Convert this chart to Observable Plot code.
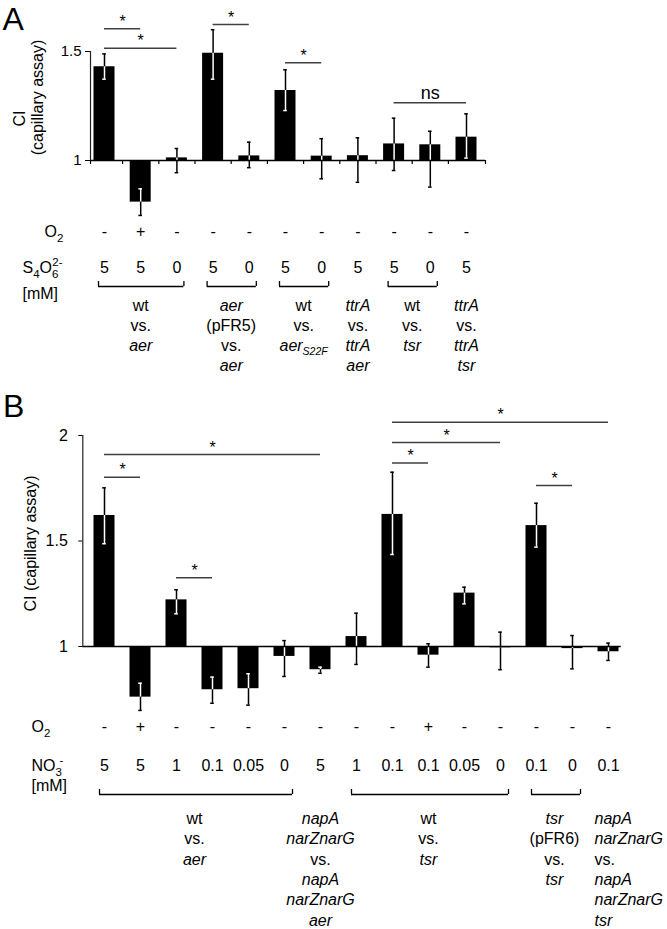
<!DOCTYPE html>
<html>
<head>
<meta charset="utf-8">
<script src="https://cdn.jsdelivr.net/npm/d3@7"></script>
<script src="https://cdn.jsdelivr.net/npm/@observablehq/plot@0.6"></script>
<style>
  html, body { margin: 0; padding: 0; background: #fff; }
  #fig { position: relative; width: 667px; height: 929px; overflow: hidden; background: #fff; }
  #panelA, #panelB { position: absolute; left: 0; }
  #panelA { top: 0; }
  #panelB { top: 385px; }
</style>
</head>
<body>
<div id="fig"><div id="panelA"></div><div id="panelB"></div></div>
<script>
// ---------------- Panel A data ----------------
const o2A   = ["-","+","-","-","-","-","-","-","-","-","-"];
const s4o6A = ["5","5","0","5","0","5","0","5","5","0","5"];
const ciA   = [1.430, 0.809, 1.012, 1.492, 1.021, 1.321, 1.020, 1.022, 1.076, 1.072, 1.107];
const ciLoA = [1.373, 0.748, 0.944, 1.373, 0.967, 1.229, 0.916, 0.900, 0.954, 0.878, 1.011];
const ciHiA = [1.489, 0.870, 1.055, 1.600, 1.084, 1.416, 1.100, 1.104, 1.194, 1.134, 1.214];
const yTicksA = [1, 1.5];
const groupsA = [
  {from: 0, to: 2, lines: ["wt", "vs.", "aer"]},
  {from: 3, to: 4, lines: ["aer", "(pFR5)", "vs.", "aer"]},
  {from: 5, to: 6, lines: ["wt", "vs.", "aerS22F"]},
  {from: 7, to: 7, lines: ["ttrA", "vs.", "ttrA", "aer"]},
  {from: 8, to: 9, lines: ["wt", "vs.", "tsr"]},
  {from: 10, to: 10, lines: ["ttrA", "vs.", "ttrA", "tsr"]}
];
const sigA = [
  {from: 0, to: 1, y: 1.604, label: "*"},
  {from: 0, to: 2, y: 1.515, label: "*"},
  {from: 3, to: 4, y: 1.624, label: "*"},
  {from: 5, to: 6, y: 1.448, label: "*"},
  {from: 8, to: 10, y: 1.265, label: "ns"}
];
const rowLabelsA = ["O2", "S4O62-", "[mM]"];
const yLabelA = ["CI", "(capillary assay)"];

// ---------------- Panel B data ----------------
const o2B   = ["-","+","-","-","-","-","-","-","-","+","-","-","-","-","-"];
const no3B  = ["5","5","1","0.1","0.05","0","5","1","0.1","0.1","0.05","0","0.1","0","0.1"];
const ciB   = [1.621, 0.760, 1.221, 0.795, 0.800, 0.953, 0.890, 1.047, 1.626, 0.959, 1.253, 0.994, 1.573, 0.990, 0.975];
const ciLoB = [1.487, 0.697, 1.155, 0.731, 0.722, 0.858, 0.873, 0.915, 1.436, 0.902, 1.202, 0.890, 1.471, 0.894, 0.934];
const ciHiB = [1.752, 0.826, 1.269, 0.855, 0.871, 1.028, 0.902, 1.158, 1.826, 1.013, 1.281, 1.068, 1.679, 1.052, 1.016];
const yTicksB = [1, 1.5, 2];
const groupsB = [
  {from: 0, to: 5, lines: ["wt", "vs.", "aer"]},
  {from: 6, to: 6, lines: ["napA", "narZnarG", "vs.", "napA", "narZnarG", "aer"]},
  {from: 7, to: 11, lines: ["wt", "vs.", "tsr"]},
  {from: 12, to: 13, lines: ["tsr", "(pFR6)", "vs.", "tsr"]},
  {from: 14, to: 14, lines: ["napA", "narZnarG", "vs.", "napA", "narZnarG", "tsr"]}
];
const sigB = [
  {from: 0, to: 6, y: 1.910, label: "*"},
  {from: 0, to: 1, y: 1.802, label: "*"},
  {from: 2, to: 3, y: 1.326, label: "*"},
  {from: 8, to: 14, y: 2.063, label: "*"},
  {from: 8, to: 11, y: 1.967, label: "*"},
  {from: 8, to: 9, y: 1.870, label: "*"},
  {from: 12, to: 13, y: 1.763, label: "*"}
];
const rowLabelsB = ["O2", "NO3-", "[mM]"];
const yLabelB = ["CI (capillary assay)"];

// ---------------- layout (pixels) ----------------
const FONT = "'Liberation Sans', Arial, Helvetica, sans-serif";
const layoutA = {
  height: 385, x0: 104, ppx: 36.2, y1: 160, ppu: 218,
  barHalf: 10.5, capHalf: 1.8, axisL: 90, axisR: 485,
  tickSize: 5, tickPad: 4, tickFs: 15, catTicks: true, catTickLen: 4,
  rowY: [231, 267],
  labelPos: [[44, 231], [22, 267], [22, 293]],
  yLabelPos: [[19, 118], [37.5, 97]],
  letter: "A", letterPos: [2, 19.5], letterFs: 32,
  brY: 286, brTick: 5, brL: 6, brR: 7,
  genoTop: 296.5, genoLH: 1.25, lastLeft: 0
};
const layoutB = {
  height: 544, x0: 104, ppx: 36, y1: 261, ppu: 211,
  barHalf: 10.5, capHalf: 1.8, axisL: 82.3, axisR: 620.7,
  tickSize: 4, tickPad: 11, tickFs: 16, catTicks: false, catTickLen: 0,
  rowY: [341.7, 380.7],
  labelPos: [[31, 341.7], [31, 380.7], [31, 400]],
  yLabelPos: [[30, 158]],
  letter: "B", letterPos: [2.4, 21.4], letterFs: 32,
  brY: 409, brTick: 5, brL: 5, brR: 8,
  genoTop: 424.1, genoLH: 1.27, lastLeft: 14
};

// ---------------- rich text helpers ----------------
const SVGNS = "http://www.w3.org/2000/svg";
const RICH = {
  "O2": [["O"], ["2", "sub"]],
  "S4O62-": [["S"], ["4", "sub"], ["O"], ["6", "sub"], ["2-", "sup", -6.2]],
  "NO3-": [["NO"], ["3", "sub"], ["-", "sup", -2.5]]
};
const ITALIC = new Set(["aer", "ttrA", "tsr", "napA", "narZnarG", "aerS22F"]);
function buildRich(el, parts) {
  el.textContent = "";
  let off = 0;
  for (const [s, k, dx] of parts) {
    const ts = document.createElementNS(SVGNS, "tspan");
    const target = k === "sub" ? 5 : k === "sup" ? -7 : 0;
    ts.setAttribute("dy", target - off);
    off = target;
    if (k) ts.setAttribute("font-size", 11.5);
    if (dx) ts.setAttribute("dx", dx);
    ts.textContent = s;
    el.appendChild(ts);
  }
}
function enrich(svg) {
  svg.querySelectorAll("tspan").forEach(t => {
    const s = t.textContent;
    if (ITALIC.has(s)) t.setAttribute("font-style", "italic");
    if (s === "aerS22F") {
      t.textContent = "aer";
      const sub = document.createElementNS(SVGNS, "tspan");
      sub.setAttribute("font-size", 10.5);
      sub.setAttribute("dy", 4);
      sub.textContent = "S22F";
      t.appendChild(sub);
    }
  });
  svg.querySelectorAll("text").forEach(t => {
    if (t.children.length) return;
    const parts = RICH[t.textContent];
    if (parts) buildRich(t, parts);
  });
}

// ---------------- panel builder ----------------
function buildPanel(P, L) {
  const {ci, lo, hi, rows, groups, sig, yTicks, rowLabels, yLabel} = P;
  const n = ci.length, idx = d3.range(n);
  const xAt = px => (px - L.x0) / L.ppx;
  const yAt = px => 1 + (L.y1 - px) / L.ppu;
  const yMax = d3.max(yTicks);
  const hw = L.barHalf / L.ppx, capw = L.capHalf / L.ppx;
  const inBar = (i, v) => ci[i] >= 1 ? (v >= 1 && v <= ci[i]) : (v <= 1 && v >= ci[i]);
  const inner = idx.map(i => ci[i] >= 1 ? [Math.max(lo[i], 1), ci[i]] : [ci[i], Math.min(hi[i], 1)]);
  const caps = idx.flatMap(i => [{i, v: lo[i]}, {i, v: hi[i]}]);
  const whiteCaps = caps.filter(c => inBar(c.i, c.v));
  const bracketed = groups.filter(g => g.to > g.from);
  const bx1 = g => g.from - L.brL / L.ppx, bx2 = g => g.to + L.brR / L.ppx;
  const bracketEnds = bracketed.flatMap(g => [bx1(g), bx2(g)]);
  const catTicks = L.catTicks ? [xAt(L.axisL), ...d3.range(1, n).map(i => i - 0.5), xAt(L.axisR)] : [];
  const mainGroups = L.lastLeft ? groups.slice(0, -1) : groups;
  const lastGroups = L.lastLeft ? groups.slice(-1) : [];
  const labels = rowLabels.map((t, k) => ({t, x: L.labelPos[k][0], y: L.labelPos[k][1]}));
  const ylabs = yLabel.map((t, k) => ({t, x: L.yLabelPos[k][0], y: L.yLabelPos[k][1]}));

  const marks = [
    // error bars (black, full extent)
    Plot.ruleX(idx, {x: i => i, y1: i => lo[i], y2: i => hi[i], stroke: "#000", strokeWidth: 1.5}),
    Plot.ruleY(caps, {x1: c => c.i - capw, x2: c => c.i + capw, y: c => c.v, stroke: "#000", strokeWidth: 1.5}),
    // bars
    Plot.rect(idx, {x1: i => i - hw, x2: i => i + hw, y1: () => 1, y2: i => ci[i], fill: "#000"}),
    // error bars inside bars (white)
    Plot.ruleX(idx, {x: i => i, y1: i => inner[i][0], y2: i => inner[i][1], stroke: "#fff", strokeWidth: 1.5}),
    Plot.ruleY(whiteCaps, {x1: c => c.i - capw, x2: c => c.i + capw, y: c => c.v, stroke: "#fff", strokeWidth: 1.5}),
    // axes
    Plot.ruleY([1], {x1: () => xAt(L.axisL), x2: () => xAt(L.axisR), stroke: "#000", strokeWidth: 1.5}),
    Plot.ruleX([xAt(L.axisL)], {y1: () => 1, y2: () => yMax, stroke: "#222", strokeWidth: 1.2}),
    Plot.axisY(yTicks, {anchor: "left", tickSize: L.tickSize, tickPadding: L.tickPad, fontSize: L.tickFs, label: null, tickFormat: d => String(d)}),
    Plot.ruleX(catTicks, {x: d => d, y1: () => 1, y2: () => yAt(L.y1 + L.catTickLen), stroke: "#000", strokeWidth: 1.2}),
    // significance
    Plot.ruleY(sig, {x1: "from", x2: "to", y: "y", stroke: "#404040", strokeWidth: 1.5}),
    Plot.text(sig.filter(s => s.label === "*"), {x: s => (s.from + s.to) / 2, y: "y", text: "label", dy: -7, fontSize: 16}),
    Plot.text(sig.filter(s => s.label !== "*"), {x: s => (s.from + s.to) / 2, y: "y", text: "label", dy: -9, fontSize: 18}),
    // condition rows
    ...rows.map((vals, r) => Plot.text(vals, {x: (d, i) => i, y: () => yAt(L.rowY[r]), text: d => d, fontSize: 16})),
    Plot.text(labels, {x: d => xAt(d.x), y: d => yAt(d.y), text: "t", textAnchor: "start", fontSize: 16}),
    // y axis title
    Plot.text(ylabs, {x: d => xAt(d.x), y: d => yAt(d.y), text: "t", rotate: -90, fontSize: 16}),
    // panel letter
    Plot.text([L.letter], {x: () => xAt(L.letterPos[0]), y: () => yAt(L.letterPos[1]), text: d => d, textAnchor: "start", fontSize: L.letterFs}),
    // brackets
    Plot.ruleY(bracketed, {x1: bx1, x2: bx2, y: () => yAt(L.brY), stroke: "#000", strokeWidth: 1.3}),
    Plot.ruleX(bracketEnds, {x: d => d, y1: () => yAt(L.brY), y2: () => yAt(L.brY - L.brTick), stroke: "#000", strokeWidth: 1.3}),
    // strain labels
    Plot.text(mainGroups, {x: g => (g.from + g.to) / 2, y: () => yAt(L.genoTop), text: g => g.lines.join("\n"), lineAnchor: "top", lineHeight: L.genoLH, fontSize: 16}),
    Plot.text(lastGroups, {x: g => (g.from + g.to) / 2, y: () => yAt(L.genoTop), text: g => g.lines.join("\n"), lineAnchor: "top", lineHeight: L.genoLH, fontSize: 16, textAnchor: "start", dx: -L.lastLeft})
  ];

  const svg = Plot.plot({
    width: 667,
    height: L.height,
    margin: 0,
    marginLeft: L.axisL,
    x: {type: "linear", domain: [0, n - 1], range: [L.x0, L.x0 + (n - 1) * L.ppx], axis: null},
    y: {type: "linear", domain: [1, yMax], range: [L.y1, L.y1 - (yMax - 1) * L.ppu], axis: null},
    style: {fontFamily: FONT, fontSize: "16px", background: "#fff", color: "#000", overflow: "visible"},
    marks
  });
  enrich(svg);
  return svg;
}

document.getElementById("panelA").appendChild(buildPanel({
  ci: ciA, lo: ciLoA, hi: ciHiA, rows: [o2A, s4o6A], groups: groupsA, sig: sigA,
  yTicks: yTicksA, rowLabels: rowLabelsA, yLabel: yLabelA
}, layoutA));

document.getElementById("panelB").appendChild(buildPanel({
  ci: ciB, lo: ciLoB, hi: ciHiB, rows: [o2B, no3B], groups: groupsB, sig: sigB,
  yTicks: yTicksB, rowLabels: rowLabelsB, yLabel: yLabelB
}, layoutB));
</script>
</body>
</html>
